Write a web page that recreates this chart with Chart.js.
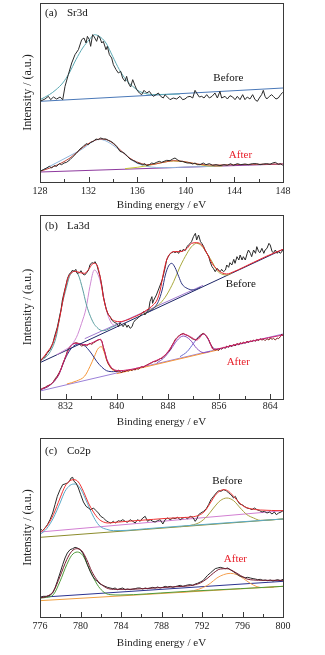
<!DOCTYPE html>
<html>
<head>
<meta charset="utf-8">
<script src="https://cdn.jsdelivr.net/npm/chart.js@4.4.1/dist/chart.umd.min.js"></script>
<style>
  html, body { margin: 0; padding: 0; background: #fff; }
  body { width: 325px; height: 655px; position: relative; overflow: hidden; }
  canvas { position: absolute; left: 0; }
</style>
</head>
<body>
<canvas id="chartA" width="325" height="212" style="top:0px"></canvas>
<canvas id="chartB" width="325" height="217" style="top:212px"></canvas>
<canvas id="chartC" width="325" height="222" style="top:428px"></canvas>
<script>
const SERIF = '"Liberation Serif", "Times New Roman", serif';

// ---------- (a) Sr3d ----------
const aTicks = [128, 132, 136, 140, 144, 148];
const aMinor = [130, 134, 138, 142, 146];

const aBeforeRawE = [128.00,128.41,128.69,128.88,129.10,129.37,129.65,129.87,130.06,130.33,130.61,130.88,131.16,131.43,131.62,131.79,131.90,132.06,132.17,132.33,132.47,132.66,132.80,132.94,133.08,133.21,133.43,133.54,133.71,133.90,134.04,134.26,134.45,134.64,134.80,135.00,135.13,135.27,135.46,135.63,135.82,135.96,136.18,136.37,136.56,136.78,137.00,137.19,137.33,137.55,137.74,137.93,138.15,138.29,138.43,138.70,138.97,139.25,139.52,139.74,139.93,140.13,140.35,140.57,140.76,140.89,141.11,141.31,141.50,141.72,141.94,142.16,142.40,142.60,142.81,142.95,143.23,143.42,143.64,143.86,144.05,144.24,144.46,144.68,144.87,145.06,145.28,145.50,145.70,145.89,146.05,146.24,146.38,146.52,146.66,146.88,147.07,147.20,147.42,147.61,147.81,147.97];
const aBeforeRawI = [242,249,257,247,255,249,255,247,287,322,357,382,397,427,432,417,437,427,407,442,435,422,439,432,417,422,397,407,382,372,352,337,327,332,312,302,317,297,285,307,289,277,267,262,275,267,272,262,257,262,267,257,252,262,257,247,252,249,257,247,249,255,257,252,275,267,255,257,252,262,252,257,267,252,272,252,257,249,259,255,247,257,247,262,247,255,249,262,247,242,252,262,275,257,249,257,262,257,249,252,262,269];
const aBeforeFitE = [128.0,128.77,129.32,129.87,130.41,130.96,131.51,132.06,132.47,132.88,133.43,133.98,134.53,135.08,135.63,136.18,136.72,137.27,138.43,139.5];
const aBeforeFitI = [247,262,277,297,327,367,402,427,442,437,417,377,337,307,287,272,265,262,263,264];

const aAfterRawE = [128.00,128.27,128.55,128.77,128.96,129.15,129.37,129.59,129.78,129.98,130.19,130.47,130.74,131.02,131.29,131.57,131.79,131.98,132.17,132.39,132.61,132.80,132.99,133.21,133.43,133.62,133.82,134.04,134.31,134.58,134.80,135.00,135.19,135.41,135.63,135.82,136.01,136.23,136.45,136.64,136.78,137.00,137.19,137.38,137.60,137.82,138.01,138.21,138.43,138.70,138.92,139.11,139.30,139.52,139.74,139.93,140.13,140.35,140.57,140.76,140.95,141.17,141.44,141.66,141.94,142.21,142.49,142.81,143.14,143.42,143.69,143.91,144.24,144.52,144.87,145.15,145.50,145.83,146.11,146.38,146.66,146.93,147.15,147.37,147.62,147.81,147.97];
const aAfterRawI = [32,37,42,47,42,49,47,55,52,57,59,67,77,87,99,107,115,112,119,122,129,127,132,129,129,125,122,117,107,92,89,85,77,69,65,62,57,55,52,55,49,52,57,55,59,62,59,62,65,64,69,72,67,62,62,59,57,57,54,57,52,52,57,52,55,50,52,49,52,50,55,50,55,52,54,52,55,55,52,54,55,53,57,59,53,55,50];
const aAfterFitE = [128.00,128.82,129.65,130.47,131.29,131.84,132.39,132.94,133.49,134.04,134.58,135.13,135.68,136.23,136.78,137.33,137.88,138.43,138.97,139.52,140.07,140.62,141.17,141.99,142.81,143.91,145.56,147.97];
const aAfterFitI = [32,42,55,72,97,112,123,129,127,115,97,79,65,57,52,53,57,61,64,63,60,56,53,51,51,52,53,54];
const aAfterP1E = [128.0,131.3,132.9,134.6,135.7,136.8,138.4,140.1,142.3];
const aAfterP1I = [32,95,128,95,62,47,43,45,47];
const aAfterP2E = [135.0,136.0,137.0,138.0,139.0,140.0,141.0,142.0,143.0];
const aAfterP2I = [40,44,50,58,63,60,53,48,48];
const aBaseE = [128, 148];
const aBeforeBaseI = [242, 282];
const aAfterBaseI = [30, 54];

// ---------- (b) La3d ----------
const bTicks = [832, 840, 848, 856, 864];
const bMinor = [836, 844, 852, 860];

const bBeforeRawE = [828.0,828.4,828.8,829.1,829.6,830.0,830.3,830.7,831.0,831.3,831.5,831.8,832.1,832.3,832.6,832.9,833.1,833.3,833.6,833.8,834.2,834.4,834.7,835.0,835.3,835.6,835.8,836.1,836.4,836.6,836.9,837.1,837.4,837.7,837.9,838.2,838.4,838.7,839.0,839.2,839.5,839.7,840.0,840.3,840.5,840.8,841.0,841.3,841.6,841.8,842.1,842.4,842.6,842.9,843.1,843.4,843.7,843.9,844.2,844.4,844.7,845.0,845.2,845.5,845.6,845.8,846.2,846.5,846.8,847.1,847.3,847.6,847.8,848.1,848.4,848.6,848.9,849.1,849.4,849.7,849.9,850.2,850.4,850.7,851.0,851.2,851.5,851.7,852.0,852.3,852.5,852.8,853.1,853.3,853.6,853.8,854.1,854.4,854.6,854.9,855.1,855.4,855.7,855.9,856.2,856.4,856.7,857.0,857.2,857.5,857.7,858.0,858.3,858.5,858.8,859.1,859.3,859.6,859.8,860.1,860.4,860.6,860.9,861.1,861.4,861.7,861.9,862.2,862.4,862.7,863.0,863.2,863.5,863.8,864.0,864.3,864.5,864.8,865.1,865.3,865.6,866.0];
const bBeforeRawI = [115,122,127,137,149,167,189,215,242,269,297,322,345,362,375,381,387,382,389,377,379,385,375,372,379,387,402,409,407,412,402,387,367,337,307,282,267,252,247,237,232,229,227,217,229,222,217,227,215,222,212,217,229,237,239,245,249,257,262,252,262,267,292,307,287,297,312,327,342,357,372,397,417,429,437,439,442,439,442,437,447,442,449,445,457,462,467,472,487,497,477,492,472,467,457,447,437,427,412,397,392,382,392,387,382,389,382,387,402,395,409,402,419,407,427,417,432,417,427,417,437,447,437,427,447,437,457,442,439,452,437,447,452,467,462,442,439,447,437,442,437,447];
const bBeforeFitE = [828.0,829.0,830.1,830.9,831.4,831.9,832.4,833.0,833.5,834.3,835.0,835.6,836.4,836.9,837.4,837.9,838.4,839.0,839.7,840.5,841.6,842.6,843.7,844.7,845.7,846.3,846.8,847.3,847.8,848.4,848.9,849.9,851.0,851.7,852.5,853.3,854.1,854.9,855.7,856.4,857.2,858.3,859.8,861.4,863.5,866.0];
const bBeforeFitI = [112,137,172,227,277,327,364,380,383,379,377,389,407,402,367,307,267,245,234,232,237,245,255,267,282,297,327,377,417,437,442,442,452,467,469,462,437,407,389,379,375,382,395,410,429,449];
const bBeforeP1E = [828.0,829.6,830.6,831.0,831.5,832.1,832.6,833.0,833.3,834.0,834.7,835.2,835.7,836.4,836.9,837.4,837.9,838.4,839.2,840.0];
const bBeforeP1I = [112,142,192,237,287,332,367,379,384,372,327,287,257,227,215,207,205,207,215,222];
const bBeforeP2E = [830.6,831.7,832.7,833.7,834.5,835.2,835.8,836.5,837.1,837.7,838.2,838.7,839.2,840.0];
const bBeforeP2I = [133,145,158,185,227,272,337,387,372,332,282,247,227,217];
const bBeforeP3E = [844.7,845.7,846.5,847.1,847.6,848.1,848.6,849.1,849.7,850.2,851.0,852.0,853.1];
const bBeforeP3I = [259,271,292,327,372,399,407,395,367,345,332,327,335];
const bBeforeP4E = [844.2,845.7,846.8,847.8,848.9,849.9,851.0,851.7,852.5,853.3,854.1,854.9,855.7,856.4,857.2,858.0];
const bBeforeP4I = [254,272,287,312,352,397,437,457,467,459,437,412,385,375,372,378];
const bBeforeBaseE = [828, 866];
const bBeforeBaseI = [109, 449];
const bBeforeBase2E = [835, 853.5];
const bBeforeBase2I = [181, 341];

const bAfterRawE = [828.0,828.4,828.8,829.1,829.6,830.0,830.3,830.7,831.0,831.3,831.5,831.8,832.1,832.3,832.6,832.9,833.1,833.3,833.6,834.0,834.3,834.5,834.8,835.0,835.3,835.6,835.8,836.1,836.4,836.6,836.9,837.1,837.4,837.7,837.9,838.2,838.4,838.7,839.0,839.2,839.5,839.7,840.0,840.3,840.5,840.8,841.0,841.3,841.6,841.8,842.1,842.4,842.6,842.9,843.1,843.4,843.7,843.9,844.2,844.4,844.7,845.0,845.2,845.5,845.7,846.0,846.3,846.5,846.8,847.1,847.3,847.6,847.8,848.1,848.4,848.6,848.9,849.1,849.4,849.7,849.9,850.2,850.4,850.7,851.0,851.2,851.5,851.7,852.0,852.3,852.5,852.8,853.1,853.3,853.6,853.8,854.1,854.4,854.6,854.9,855.1,855.4,855.7,855.9,856.2,856.4,856.7,857.0,857.2,857.5,857.7,858.0,858.3,858.5,858.8,859.1,859.3,859.6,859.8,860.1,860.4,860.6,860.9,861.1,861.4,861.7,861.9,862.2,862.4,862.7,863.0,863.2,863.5,863.8,864.0,864.3,864.5,864.8,865.1,865.3,865.6,865.8,866.0];
const bAfterRawI = [27,32,35,39,43,49,59,69,79,91,102,117,132,145,155,162,164,167,169,167,162,159,161,163,159,165,167,164,169,171,175,177,179,172,155,137,119,105,97,91,89,85,82,87,82,79,84,82,87,83,89,85,89,87,92,89,95,97,95,99,102,105,107,109,112,112,115,117,121,122,127,131,137,142,149,159,169,177,184,189,193,195,197,193,191,189,185,182,179,177,179,185,191,195,197,193,187,177,167,157,149,147,149,145,152,149,155,152,159,155,162,157,164,159,167,162,169,165,171,167,174,169,175,171,177,173,179,175,181,177,179,175,181,177,183,179,182,177,183,181,187,195,189];
const bAfterFitE = [828.0,829.6,830.9,831.9,832.7,833.5,834.3,835.3,836.4,837.0,837.5,837.9,838.4,839.0,839.7,840.5,841.6,842.6,843.7,844.7,845.7,846.8,847.8,848.6,849.4,850.4,851.5,852.5,853.6,854.4,855.1,856.2,858.3,861.4,866.0];
const bAfterFitI = [27,43,72,122,155,167,165,163,171,177,179,157,122,99,87,85,87,90,95,101,112,121,137,159,182,195,187,177,195,177,149,152,162,175,192];
const bAfterP1E = [828.0,829.6,830.9,831.9,832.7,833.5,834.2,834.8,835.4,836.1,836.9,837.7,838.4,839.5,840.5];
const bAfterP1I = [27,42,72,119,147,162,165,162,152,135,112,95,85,82,85];
const bAfterP2E = [832.2,833.7,835.0,835.8,836.5,837.0,837.6,838.0,838.5,839.1,839.7,840.5];
const bAfterP2I = [45,54,69,97,127,149,157,142,112,92,84,82];
const bAfterP3E = [846.3,847.3,848.4,849.4,850.4,851.5,852.5,853.6,854.6];
const bAfterP3I = [109,122,147,175,189,177,152,139,143];
const bAfterP4E = [849.9,851.0,852.0,852.8,853.6,854.2,854.9,855.7,856.4];
const bAfterP4I = [127,142,167,187,195,182,157,149,152];
const bAfterBaseE = [828, 866];
const bAfterBaseI = [24, 195];
const bAfterBase2E = [840, 856];
const bAfterBase2I = [76, 148];

// ---------- (c) Co2p ----------
const cTicks = [776, 780, 784, 788, 792, 796, 800];
const cMinor = [778, 782, 786, 790, 794, 798];

const cBeforeRawE = [776.00,776.26,776.49,776.73,776.99,777.25,777.48,777.71,777.98,778.24,778.47,778.70,778.90,779.07,779.23,779.36,779.56,779.79,780.02,780.29,780.55,780.78,781.01,781.28,781.54,781.77,782.00,782.26,782.53,782.76,782.99,783.25,783.42,783.58,783.75,783.91,784.18,784.41,784.64,784.90,785.17,785.40,785.63,785.89,786.15,786.39,786.62,786.88,787.14,787.37,787.61,787.87,788.13,788.36,788.59,788.86,789.12,789.35,789.58,789.85,790.11,790.34,790.57,790.84,791.10,791.33,791.50,791.66,791.89,792.16,792.42,792.65,792.88,793.14,793.41,793.64,793.87,794.13,794.40,794.63,794.86,795.12,795.29,795.45,795.72,795.95,796.18,796.44,796.71,796.94,797.17,797.43,797.69,797.93,798.16,798.42,798.68,798.91,799.15,799.34,799.57,799.81,800.00];
const cBeforeRawI = [265,259,267,277,292,312,337,362,382,397,399,402,407,417,419,407,402,387,367,345,332,327,322,327,319,312,302,297,289,285,282,287,282,285,289,287,292,287,284,292,287,282,292,287,297,302,287,292,287,285,289,292,279,292,297,292,297,295,299,292,297,299,295,302,299,287,295,307,312,317,325,337,352,362,372,379,377,382,379,372,367,357,362,352,339,337,332,327,325,322,327,322,319,315,317,312,315,309,315,307,312,315,319];
const cBeforeFitE = [776.00,776.66,777.32,777.98,778.47,778.97,779.36,779.79,780.29,780.78,781.28,781.77,782.26,782.76,783.42,784.57,785.89,787.21,788.53,789.85,791.17,791.83,792.32,792.82,793.31,793.80,794.20,794.63,795.12,795.62,796.11,796.77,797.76,800.00];
const cBeforeFitI = [252,272,307,357,392,409,412,405,377,342,315,295,285,282,284,287,290,293,296,298,301,307,319,342,365,379,382,377,362,345,332,325,321,319];
const cBeforeP1E = [776.00,776.66,777.32,777.98,778.47,778.97,779.46,779.96,780.45,780.95,781.44,781.93,782.59,783.25,784.57,786.55,790.51,795.12,800.00];
const cBeforeP1I = [247,265,297,342,377,395,399,387,357,322,292,272,263,259,260,265,274,284,294];
const cBeforeP2E = [789.85,791.17,791.83,792.49,793.14,793.80,794.46,795.12,795.78,796.44,797.10,797.76,799.08,800.00];
const cBeforeP2I = [271,277,285,302,327,349,357,349,327,307,297,290,292,294];
const cBaseE = [776, 800];
const cBeforeBaseI = [255, 319];
const cBeforeBase2I = [239, 294];

const cAfterRawE = [776.00,776.33,776.66,776.99,777.25,777.48,777.71,777.98,778.24,778.47,778.70,778.97,779.23,779.46,779.69,779.96,780.22,780.45,780.68,780.95,781.21,781.44,781.67,781.93,782.20,782.43,782.66,782.92,783.19,783.42,783.65,783.91,784.18,784.41,784.64,784.90,785.17,785.40,785.63,785.89,786.15,786.39,786.62,786.88,787.14,787.37,787.61,787.87,788.13,788.36,788.59,788.86,789.12,789.35,789.58,789.85,790.11,790.34,790.57,790.84,791.10,791.33,791.56,791.83,792.09,792.32,792.55,792.82,793.08,793.31,793.54,793.80,794.07,794.30,794.53,794.79,795.06,795.29,795.52,795.78,796.05,796.28,796.51,796.77,797.04,797.27,797.50,797.76,798.02,798.26,798.49,798.75,799.01,799.24,799.47,799.74,800.00];
const cAfterRawI = [59,62,62,65,72,87,107,132,157,177,192,202,205,209,207,202,192,177,157,137,122,112,107,99,95,92,89,87,85,87,82,85,87,82,84,82,84,85,87,87,84,87,85,87,89,87,90,87,89,92,90,92,89,91,93,95,92,94,96,97,95,99,101,105,109,117,125,132,139,145,147,149,147,145,147,142,137,132,127,122,120,118,119,117,115,114,112,113,110,111,109,111,108,110,112,109,113];
const cAfterFitE = [776.00,776.66,777.32,777.98,778.64,779.13,779.63,780.12,780.62,781.11,781.61,782.10,782.59,783.25,784.57,786.22,787.87,789.52,790.84,791.83,792.49,793.14,793.80,794.46,795.12,795.78,796.44,797.10,798.09,800.00];
const cAfterFitI = [57,62,77,122,172,197,205,199,172,137,112,97,87,83,83,85,88,91,94,102,115,132,144,145,137,125,114,111,110,110];
const cAfterP1E = [776.00,776.66,777.32,777.98,778.64,779.13,779.69,780.22,780.68,781.21,781.77,782.33,782.92,783.91,785.23,787.87,790.51,793.14,795.78,800.00];
const cAfterP1I = [57,59,67,107,157,185,195,185,157,122,92,74,67,66,67,72,77,81,85,92];
const cAfterP2E = [789.85,791.17,792.16,792.82,793.47,794.13,794.79,795.45,796.11,796.77,797.43,798.09,799.08];
const cAfterP2I = [74,79,89,101,117,127,131,127,115,101,91,88,89];
const cAfterBaseI = [59, 107];
const cAfterBase2I = [49, 92];

// ---------- helpers ----------
function pts(xs, ys) {
    return xs.map((x, i) => ({ x: x, y: ys[i] }));
}

function raw(xs, ys, color) {
    return { data: pts(xs, ys), showLine: true, borderColor: color, borderWidth: 1, pointRadius: 0, tension: 0 };
}

function smooth(xs, ys, color) {
    return { data: pts(xs, ys), showLine: true, borderColor: color, borderWidth: 1, pointRadius: 0, cubicInterpolationMode: 'monotone' };
}

// frame, inward ticks and the panel texts
const decor = {
    id: 'decor',
    afterDatasetsDraw(chart, args, opts) {
        const { ctx, chartArea: a, scales: { x, y } } = chart;
        ctx.save();
        ctx.strokeStyle = '#3a3a3a';
        ctx.lineWidth = 1;
        ctx.strokeRect(a.left + 0.5, a.top + 0.5, a.right - a.left, a.bottom - a.top);
        ctx.beginPath();
        opts.major.forEach(v => {
            const px = Math.round(x.getPixelForValue(v)) + 0.5;
            ctx.moveTo(px, a.bottom);
            ctx.lineTo(px, a.bottom - 5);
        });
        opts.minor.forEach(v => {
            const px = Math.round(x.getPixelForValue(v)) + 0.5;
            ctx.moveTo(px, a.bottom);
            ctx.lineTo(px, a.bottom - 3);
        });
        ctx.stroke();

        ctx.font = '11px ' + SERIF;
        ctx.textBaseline = 'middle';
        ctx.textAlign = 'left';
        ctx.fillStyle = '#111';
        ctx.fillText(opts.tag, a.left + 5, a.top + opts.tagDy);
        ctx.fillText(opts.name, a.left + 27, a.top + opts.tagDy);
        ctx.textAlign = 'center';
        opts.notes.forEach(n => {
            ctx.fillStyle = n.color;
            ctx.fillText(n.text, x.getPixelForValue(n.x), y.getPixelForValue(n.y));
        });
        ctx.restore();
    }
};

function makeChart(id, p) {
    return new Chart(document.getElementById(id), {
        type: 'scatter',
        data: { datasets: p.datasets },
        options: {
            responsive: false,
            animation: false,
            devicePixelRatio: 1,
            layout: { autoPadding: false, padding: { top: p.top, right: 42, bottom: 0, left: 0 } },
            plugins: {
                legend: { display: false },
                tooltip: { enabled: false },
                decor: p.decor
            },
            scales: {
                x: {
                    type: 'linear',
                    min: p.xMin,
                    max: p.xMax,
                    afterBuildTicks: s => { s.ticks = p.major.map(v => ({ value: v })); },
                    afterFit: s => { s.height = p.axisH; },
                    grid: { display: false, drawTicks: false },
                    border: { display: false },
                    ticks: { color: '#222', padding: p.tickPad, maxRotation: 0, autoSkip: false, font: { family: SERIF, size: 10 } },
                    title: { display: true, text: 'Binding energy / eV', color: '#222', padding: 0, font: { family: SERIF, size: 11 } }
                },
                y: {
                    type: 'linear',
                    min: 0,
                    max: p.yMax,
                    afterFit: s => { s.width = 40; },
                    ticks: { display: false },
                    grid: { display: false, drawTicks: false },
                    border: { display: false },
                    title: { display: true, text: 'Intensity / (a.u.)', color: '#222', padding: { top: 21, bottom: 0 }, font: { family: SERIF, size: 12 } }
                }
            }
        },
        plugins: [decor]
    });
}

// dataset 0 is drawn on top
makeChart('chartA', {
    top: 3, axisH: 30, tickPad: 3, xMin: 128, xMax: 148, yMax: 537, major: aTicks,
    datasets: [
        raw(aBeforeRawE, aBeforeRawI, '#2a2a2a'),
        smooth(aBeforeFitE, aBeforeFitI, '#5aa9b3'),
        raw(aBaseE, aBeforeBaseI, '#4a78b8'),
        raw(aAfterRawE, aAfterRawI, '#2a2a2a'),
        smooth(aAfterFitE, aAfterFitI, '#c0473c'),
        smooth(aAfterP2E, aAfterP2I, '#c4c436'),
        smooth(aAfterP1E, aAfterP1I, '#8fb6dc'),
        raw(aBaseE, aAfterBaseI, '#8e3a9e')
    ],
    decor: {
        major: aTicks, minor: aMinor, tag: '(a)', name: 'Sr3d', tagDy: 10,
        notes: [
            { text: 'Before', x: 143.5, y: 313, color: '#111' },
            { text: 'After', x: 144.5, y: 82, color: '#e8202a' }
        ]
    }
});

makeChart('chartB', {
    top: 3, axisH: 30, tickPad: 1, xMin: 828, xMax: 866, yMax: 552, major: bTicks,
    datasets: [
        smooth(bBeforeFitE, bBeforeFitI, '#e8202a'),
        raw(bBeforeRawE, bBeforeRawI, '#2a2a2a'),
        smooth(bBeforeP1E, bBeforeP1I, '#5b9ea0'),
        smooth(bBeforeP2E, bBeforeP2I, '#d08ad4'),
        smooth(bBeforeP3E, bBeforeP3I, '#2d3580'),
        smooth(bBeforeP4E, bBeforeP4I, '#a8a83c'),
        raw(bBeforeBase2E, bBeforeBase2I, '#a07ad0'),
        raw(bBeforeBaseE, bBeforeBaseI, '#1c2566'),
        smooth(bAfterFitE, bAfterFitI, '#d0206a'),
        raw(bAfterRawE, bAfterRawI, '#7b1d1d'),
        smooth(bAfterP1E, bAfterP1I, '#2d3588'),
        smooth(bAfterP2E, bAfterP2I, '#f5963a'),
        smooth(bAfterP3E, bAfterP3I, '#8a4fbf'),
        smooth(bAfterP4E, bAfterP4I, '#6a6ad0'),
        raw(bAfterBase2E, bAfterBase2I, '#f5963a'),
        raw(bAfterBaseE, bAfterBaseI, '#9b80d8')
    ],
    decor: {
        major: bTicks, minor: bMinor, tag: '(b)', name: 'La3d', tagDy: 11,
        notes: [
            { text: 'Before', x: 859.4, y: 345, color: '#111' },
            { text: 'After', x: 859.0, y: 112, color: '#e8202a' }
        ]
    }
});

makeChart('chartC', {
    top: 10, axisH: 33, tickPad: 3, xMin: 776, xMax: 800, yMax: 537, major: cTicks,
    datasets: [
        smooth(cBeforeFitE, cBeforeFitI, '#ee3333'),
        raw(cBeforeRawE, cBeforeRawI, '#2a2a2a'),
        smooth(cBeforeP1E, cBeforeP1I, '#5aaac8'),
        smooth(cBeforeP2E, cBeforeP2I, '#a8a040'),
        raw(cBaseE, cBeforeBaseI, '#d27fd2'),
        raw(cBaseE, cBeforeBase2I, '#8c8c2c'),
        smooth(cAfterFitE, cAfterFitI, '#7a1c30'),
        raw(cAfterRawE, cAfterRawI, '#2a2a2a'),
        smooth(cAfterP1E, cAfterP1I, '#4f9a3a'),
        smooth(cAfterP2E, cAfterP2I, '#f5a050'),
        raw(cBaseE, cAfterBaseI, '#2b3390'),
        raw(cBaseE, cAfterBase2I, '#f0a040')
    ],
    decor: {
        major: cTicks, minor: cMinor, tag: '(c)', name: 'Co2p', tagDy: 13,
        notes: [
            { text: 'Before', x: 794.5, y: 409, color: '#111' },
            { text: 'After', x: 795.3, y: 174, color: '#e8202a' }
        ]
    }
});
</script>
</body>
</html>
